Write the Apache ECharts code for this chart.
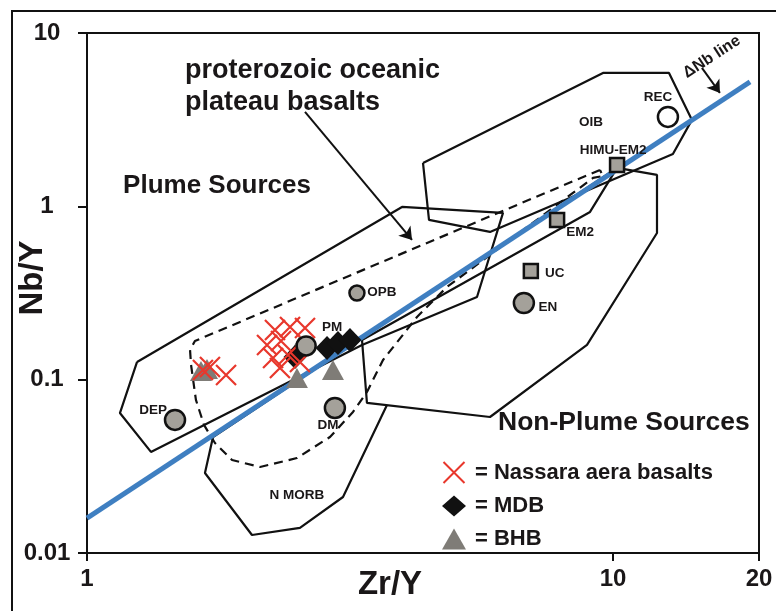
<!DOCTYPE html>
<html><head><meta charset="utf-8">
<script src="https://cdn.jsdelivr.net/npm/echarts@6/dist/echarts.min.js"></script>
<style>html,body{margin:0;padding:0;background:#fff}#c{width:776px;height:611px}</style>
</head><body><div id="c"></div>
<script>
// ---------- axes ----------
const xAxisMin = 1;
const xAxisMax = 18.95;          // right edge of the plot (labelled "20" in the original)
const yAxisMin = 0.01;
const yAxisMax = 10;
const xTickLabels = ['1', '10', '20'];
const yTickLabels = ['0.01', '0.1', '1', '10'];

// ---------- samples ----------
const nassaraX = [1.661, 1.713, 1.838, 2.277, 2.432, 2.597, 2.199, 2.338, 2.258, 2.411, 2.540, 2.327];
const nassaraY = [0.1138, 0.1184, 0.1064, 0.1936, 0.2014, 0.1988, 0.1586, 0.1672, 0.1334, 0.1389, 0.1265, 0.1168];
const mdbX = [2.486, 2.860, 3.000, 3.162];
const mdbY = [0.1352, 0.1524, 0.1629, 0.1695];
const bhbX = [1.647, 1.691, 2.507, 2.540, 2.935];
const bhbY = [0.1123, 0.1153, 0.1023, 0.1586, 0.1138];

// ---------- reference compositions ----------
const refNames = ['DEP', 'PM', 'DM', 'OPB', 'EN', 'REC'];
const refX = [1.47, 2.61, 2.96, 3.26, 6.77, 12.72];
const refY = [0.0586, 0.1565, 0.0687, 0.316, 0.277, 3.28];
const refSqNames = ['UC', 'EM2', 'HIMU-EM2'];
const refSqX = [6.98, 7.83, 10.18];
const refSqY = [0.424, 0.835, 1.733];

// ---------- ΔNb line ----------
const dNbX = [1, 18.22];
const dNbY = [0.0159, 5.22];

// ---------- fields ----------
const plumeX = [1.245, 1.155, 1.323, 3.333, 5.514, 6.179, 3.971, 1.245];
const plumeY = [0.1265, 0.0642, 0.0383, 0.1586, 0.300, 0.916, 0.992, 0.1265];
const oibX = [4.353, 4.469, 5.837, 13.00, 14.13, 12.78, 9.572, 4.353];
const oibY = [1.780, 0.835, 0.7116, 2.006, 3.152, 5.886, 5.886, 1.780];
const nonPlumeX = [10.18, 12.125, 12.125, 8.925, 5.837, 3.406, 3.333, 9.044, 10.18];
const nonPlumeY = [1.666, 1.518, 0.702, 0.1586, 0.0609, 0.0734, 0.1695, 0.9284, 1.666];
const edgeX = [1.736, 10.18];
const edgeY = [0.0467, 1.666];
const nmorbX = [1.736, 1.676, 2.059, 2.540, 3.067, 3.718];
const nmorbY = [0.0467, 0.02894, 0.0127, 0.01395, 0.02104, 0.0715];
const opbX = [9.446, 1.604, 1.570, 1.577, 1.611, 1.669, 1.751, 1.887, 2.133, 2.507, 2.897, 3.204, 3.406, 3.654, 4.240, 4.835, 9.163, 9.572, 9.446];
const opbY = [1.622, 0.1672, 0.1484, 0.1216, 0.0764, 0.0548, 0.0431, 0.0344, 0.03135, 0.0353, 0.0467, 0.0651, 0.0849, 0.1299, 0.2300, 0.3426, 1.458, 1.497, 1.622];

// ---------- annotations ----------
const annoTexts = ['Plume Sources', 'proterozoic oceanic\nplateau basalts', 'Non-Plume Sources', 'OIB', 'N MORB', '\u0394Nb line'];
const annoX = [1.767, 1.536, 10.49, 9.083, 2.507, 15.42];
const annoY = [1.311, 4.92, 0.0563, 3.069, 0.0216, 7.28];
const arrowFromX = [2.597, 14.76];
const arrowFromY = [3.505, 6.29];
const arrowToX = [4.149, 15.97];
const arrowToY = [0.640, 4.512];

// ---------- styling (not data) ----------
const FONT = '"Liberation Sans", Arial, sans-serif';
const TXT = '#1a1718';
const LINE = '#111';
const GRAY = '#a4a19a';
const TRI = '#7f7c77';
const RED = '#e8372c';
const refSize = {DEP: 20, PM: 19, DM: 20, OPB: 15, EN: 20, REC: 20};
const refLabelOffset = {DEP: [-22, -10], PM: [26, -19], DM: [-7, 17], OPB: [25, -1], EN: [24, 4], REC: [-10, -20]};
const sqLabelOffset = {UC: [24, 2], EM2: [23, 12], 'HIMU-EM2': [-4, -15]};
const annoStyle = [
  {fontSize: 26},
  {fontSize: 27, align: 'left', lineHeight: 32},
  {fontSize: 26.5},
  {fontSize: 13.5},
  {fontSize: 13.5},
  {fontSize: 16, rotate: 33}
];

const pair = (xs, ys) => xs.map((x, i) => [x, ys[i]]);
function poly(name, xs, ys, dashed) {
  return {type: 'line', name, data: pair(xs, ys), symbol: 'none', showSymbol: false, silent: true, z: 2,
    lineStyle: {color: LINE, width: 2.2, type: dashed ? [9, 6] : 'solid'}};
}
const lbl = {show: true, position: 'inside', formatter: '{b}', fontSize: 13.5, fontWeight: 'bold', color: TXT,
  fontFamily: FONT, opacity: 1, textBorderWidth: 0};

const chart = echarts.init(document.getElementById('c'));
chart.setOption({
  animation: false,
  textStyle: {fontFamily: FONT},
  grid: {left: 87, right: 17, top: 33, bottom: 58, show: true, borderColor: LINE, borderWidth: 2, outerBoundsMode: 'none', containLabel: false},
  xAxis: {
    type: 'log', logBase: 10, min: xAxisMin, max: xAxisMax, interval: 1,
    axisLine: {lineStyle: {color: LINE, width: 2}},
    axisTick: {show: true, inside: false, length: 8, lineStyle: {color: LINE, width: 2}},
    minorTick: {show: false}, splitLine: {show: false},
    axisLabel: {showMinLabel: true, showMaxLabel: true, margin: 14, fontSize: 24, fontWeight: 'bold', color: TXT, fontFamily: FONT,
      formatter: v => { const e = Math.log10(v); return Math.abs(e) < 1e-6 ? xTickLabels[0] : (Math.abs(e - 1) < 1e-6 ? xTickLabels[1] : xTickLabels[2]); }}
  },
  yAxis: {
    type: 'log', logBase: 10, min: yAxisMin, max: yAxisMax, interval: 1,
    axisLine: {lineStyle: {color: LINE, width: 2}},
    axisTick: {show: true, inside: false, length: 9, lineStyle: {color: LINE, width: 2}},
    minorTick: {show: false}, splitLine: {show: false},
    axisLabel: {margin: 40, align: 'center', fontSize: 24, fontWeight: 'bold', color: TXT, fontFamily: FONT,
      formatter: v => yTickLabels[Math.round(Math.log10(v)) + 2]}
  },
  legend: {
    data: ['Nassara aera basalts', 'MDB', 'BHB'], orient: 'vertical', left: 437, top: 456,
    itemWidth: 24, itemHeight: 21, itemGap: 11, formatter: '= {name}', selectedMode: false,
    textStyle: {fontSize: 22, fontWeight: 'bold', color: TXT, fontFamily: FONT, padding: [0, 0, 0, 4]}
  },
  graphic: [
    {type: 'rect', shape: {x: 12, y: 11, width: 800, height: 700}, style: {fill: 'none', stroke: LINE, lineWidth: 2}, z: 100},
    {type: 'text', x: 33, y: 278, rotation: Math.PI / 2, style: {text: 'Nb/Y', font: 'bold 33px ' + FONT, fill: TXT, align: 'center', verticalAlign: 'middle'}},
    {type: 'text', x: 390, y: 585, style: {text: 'Zr/Y', font: 'bold 33px ' + FONT, fill: TXT, align: 'center', verticalAlign: 'middle'}}
  ],
  series: [
    poly('plume', plumeX, plumeY, false),
    poly('oib', oibX, oibY, false),
    poly('nonplume', nonPlumeX, nonPlumeY, false),
    poly('edge', edgeX, edgeY, false),
    poly('nmorb', nmorbX, nmorbY, false),
    poly('opb', opbX, opbY, true),
    {type: 'line', name: 'dNb', data: pair(dNbX, dNbY), symbol: 'none', silent: true, z: 3,
      lineStyle: {color: '#3f7fc1', width: 5}},
    {type: 'lines', coordinateSystem: 'cartesian2d', silent: true, z: 3,
      data: arrowFromX.map((x, i) => ({coords: [[x, arrowFromY[i]], [arrowToX[i], arrowToY[i]]]})),
      symbol: ['none', 'arrow'], symbolSize: [0, 12], lineStyle: {color: LINE, width: 2, opacity: 1}},
    {type: 'scatter', name: 'BHB', data: pair(bhbX, bhbY), symbol: 'triangle', symbolSize: [22, 20], z: 4,
      itemStyle: {color: TRI, opacity: 1}},
    {type: 'scatter', name: 'MDB', data: pair(mdbX, mdbY), symbol: 'diamond', symbolSize: [23, 24], z: 5,
      itemStyle: {color: '#111', opacity: 1}},
    {type: 'scatter', name: 'Nassara aera basalts', data: pair(nassaraX, nassaraY), symbol: 'path://M0,0L20,20M20,0L0,20',
      symbolSize: 20, z: 6, itemStyle: {color: 'rgba(0,0,0,0)', borderColor: RED, borderWidth: 2.2, opacity: 1}},
    {type: 'scatter', name: 'refCircles', z: 7, symbol: 'circle',
      data: refNames.map((n, i) => ({name: n, value: [refX[i], refY[i]], symbolSize: refSize[n],
        itemStyle: n === 'REC' ? {color: '#fff'} : undefined, label: {offset: refLabelOffset[n]}})),
      itemStyle: {color: GRAY, borderColor: LINE, borderWidth: 2.5, opacity: 1},
      label: lbl},
    {type: 'scatter', name: 'refSquares', z: 7, symbol: 'rect', symbolSize: 14,
      data: refSqNames.map((n, i) => ({name: n, value: [refSqX[i], refSqY[i]], label: {offset: sqLabelOffset[n]}})),
      itemStyle: {color: GRAY, borderColor: LINE, borderWidth: 2.5, opacity: 1},
      label: lbl},
    {type: 'scatter', name: 'annotations', z: 8, symbolSize: 1, silent: true, itemStyle: {color: 'rgba(0,0,0,0)', opacity: 1},
      data: annoTexts.map((t, i) => ({name: t, value: [annoX[i], annoY[i]],
        label: Object.assign({}, lbl, {verticalAlign: 'middle'}, annoStyle[i])}))}
  ]
});
</script></body></html>
